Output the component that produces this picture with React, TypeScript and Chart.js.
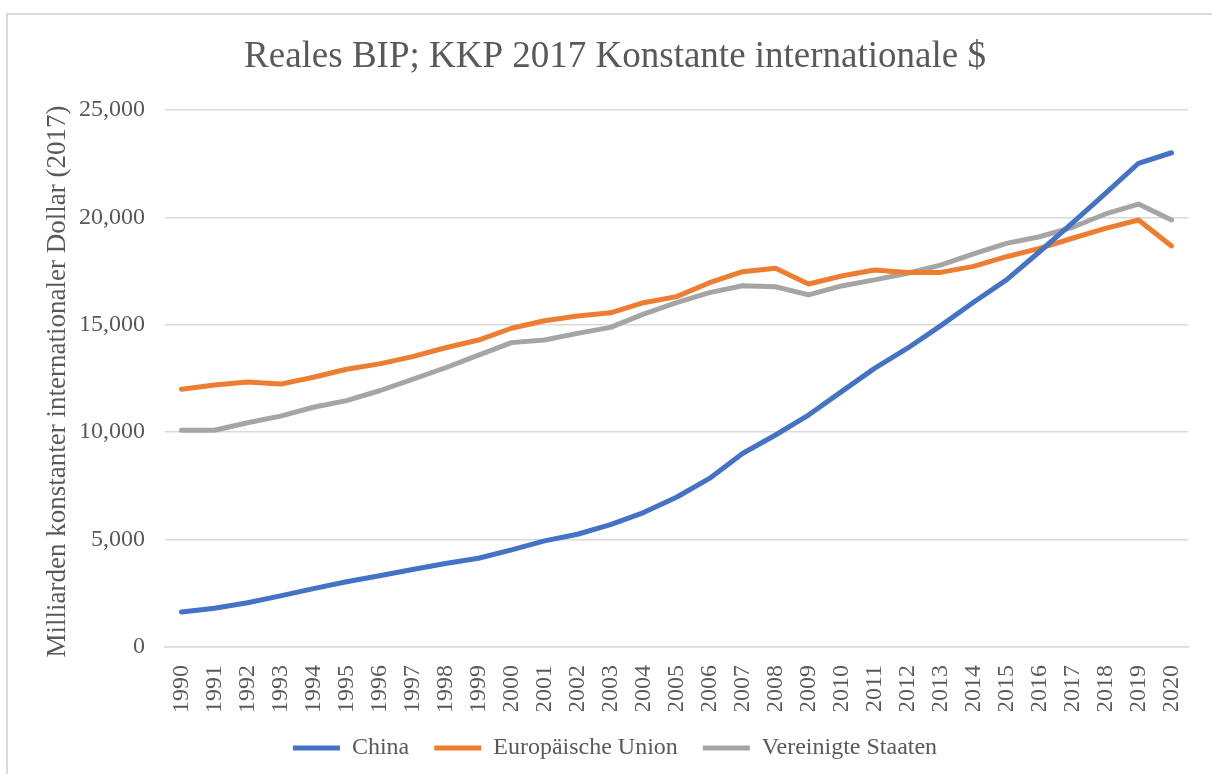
import React, { useEffect, useRef } from 'react';
import { Chart, registerables } from 'chart.js';

Chart.register(...registerables);

const years = [
  '1990', '1991', '1992', '1993', '1994', '1995', '1996', '1997', '1998', '1999',
  '2000', '2001', '2002', '2003', '2004', '2005', '2006', '2007', '2008', '2009',
  '2010', '2011', '2012', '2013', '2014', '2015', '2016', '2017', '2018', '2019', '2020',
];

const china = [
  1630, 1800, 2060, 2380, 2720, 3040, 3320, 3610, 3890, 4130,
  4520, 4940, 5250, 5700, 6260, 6970, 7850, 9010, 9870, 10800,
  11890, 12970, 13910, 14950, 16050, 17090, 18400, 19750, 21120, 22520, 23010,
];

const eu = [
  12000, 12200, 12340, 12240, 12560, 12930, 13180, 13520, 13930, 14290,
  14840, 15190, 15410, 15560, 16030, 16310, 16960, 17470, 17630, 16900,
  17270, 17550, 17430, 17440, 17720, 18170, 18560, 19030, 19490, 19880, 18670,
];

const usa = [
  10090, 10090, 10440, 10750, 11160, 11470, 11930, 12460, 13000, 13590,
  14170, 14290, 14600, 14880, 15500, 16030, 16500, 16820, 16770, 16390,
  16810, 17090, 17400, 17780, 18300, 18790, 19100, 19540, 20160, 20620, 19880,
];

const yTicks = [0, 5000, 10000, 15000, 20000, 25000];

const seriesNames = ['China', 'Europäische Union', 'Vereinigte Staaten'];
const seriesColors = ['#4472C4', '#ED7D31', '#A5A5A5'];

const titleText = 'Reales BIP; KKP 2017 Konstante internationale $';
const yTitleText = 'Milliarden konstanter internationaler Dollar (2017)';

const FONT = '"Liberation Serif", "Times New Roman", Times, serif';
const TEXT = '#595959';
const GRID = '#d9d9d9';

const framePlugin = {
  id: 'frame',
  beforeDraw(chart: any) {
    const ctx = chart.ctx;
    ctx.save();
    ctx.fillStyle = '#ffffff';
    ctx.fillRect(0, 0, chart.width, chart.height);
    ctx.strokeStyle = GRID;
    ctx.lineWidth = 2;
    ctx.strokeRect(7, 14, chart.width + 40, chart.height + 40);
    ctx.restore();
  },
};

const yTitlePlugin = {
  id: 'yTitle',
  afterDraw(chart: any) {
    const ctx = chart.ctx;
    const area = chart.chartArea;
    ctx.save();
    ctx.translate(58, (area.top + area.bottom) / 2 + 3);
    ctx.rotate(-Math.PI / 2);
    ctx.fillStyle = TEXT;
    ctx.font = `27px ${FONT}`;
    ctx.textAlign = 'center';
    ctx.textBaseline = 'middle';
    ctx.fillText(yTitleText, 0, 0);
    ctx.restore();
  },
};

export default function App() {
  const ref = useRef<HTMLCanvasElement | null>(null);

  useEffect(() => {
    document.body.style.margin = '0';
    document.body.style.overflow = 'hidden';
    const canvas = ref.current;
    if (!canvas) return;
    const seriesData = [china, eu, usa];
    const chart = new Chart(canvas, {
      type: 'line',
      data: {
        labels: years,
        datasets: seriesNames.map((name, i) => ({
          label: name,
          data: seriesData[i],
          borderColor: seriesColors[i],
          backgroundColor: seriesColors[i],
          borderWidth: 5,
          pointRadius: 0,
          pointHoverRadius: 0,
          tension: 0,
          borderCapStyle: 'round' as const,
          borderJoinStyle: 'round' as const,
          fill: false,
        })),
      },
      options: {
        responsive: false,
        animation: false,
        devicePixelRatio: 1,
        layout: { padding: { left: 42, right: 24, top: 0, bottom: 4 } },
        plugins: {
          title: {
            display: true,
            text: titleText,
            color: TEXT,
            font: { family: FONT, size: 37, weight: 'normal' },
            padding: { top: 35.5, bottom: 30.1 },
          },
          legend: {
            position: 'bottom',
            labels: {
              usePointStyle: true,
              pointStyle: 'line',
              pointStyleWidth: 47,
              color: TEXT,
              font: { family: FONT, size: 24 },
              padding: 25,
            },
          },
          tooltip: { enabled: false },
        },
        scales: {
          x: {
            type: 'category',
            offset: true,
            grid: { display: false },
            border: { display: true, color: GRID, width: 1.5 },
            ticks: {
              color: TEXT,
              font: { family: FONT, size: 24 },
              minRotation: 90,
              maxRotation: 90,
              autoSkip: false,
              padding: 10,
            },
            afterFit: (s: any) => {
              s.height = 64;
            },
          },
          y: {
            min: 0,
            max: 25000,
            afterBuildTicks: (s: any) => {
              s.ticks = yTicks.map((v) => ({ value: v }));
            },
            ticks: {
              color: TEXT,
              font: { family: FONT, size: 24 },
              padding: 20,
              callback: (v: any) => Number(v).toLocaleString('en-US'),
            },
            grid: { color: GRID, lineWidth: 1.5, drawTicks: false },
            border: { display: false },
            afterFit: (s: any) => {
              s.width = 123;
            },
          },
        },
      },
      plugins: [framePlugin, yTitlePlugin],
    } as any);
    return () => chart.destroy();
  }, []);

  return (
    <div style={{ width: 1212, height: 774, overflow: 'hidden' }}>
      <canvas ref={ref} width={1212} height={774} style={{ display: 'block' }} />
    </div>
  );
}
